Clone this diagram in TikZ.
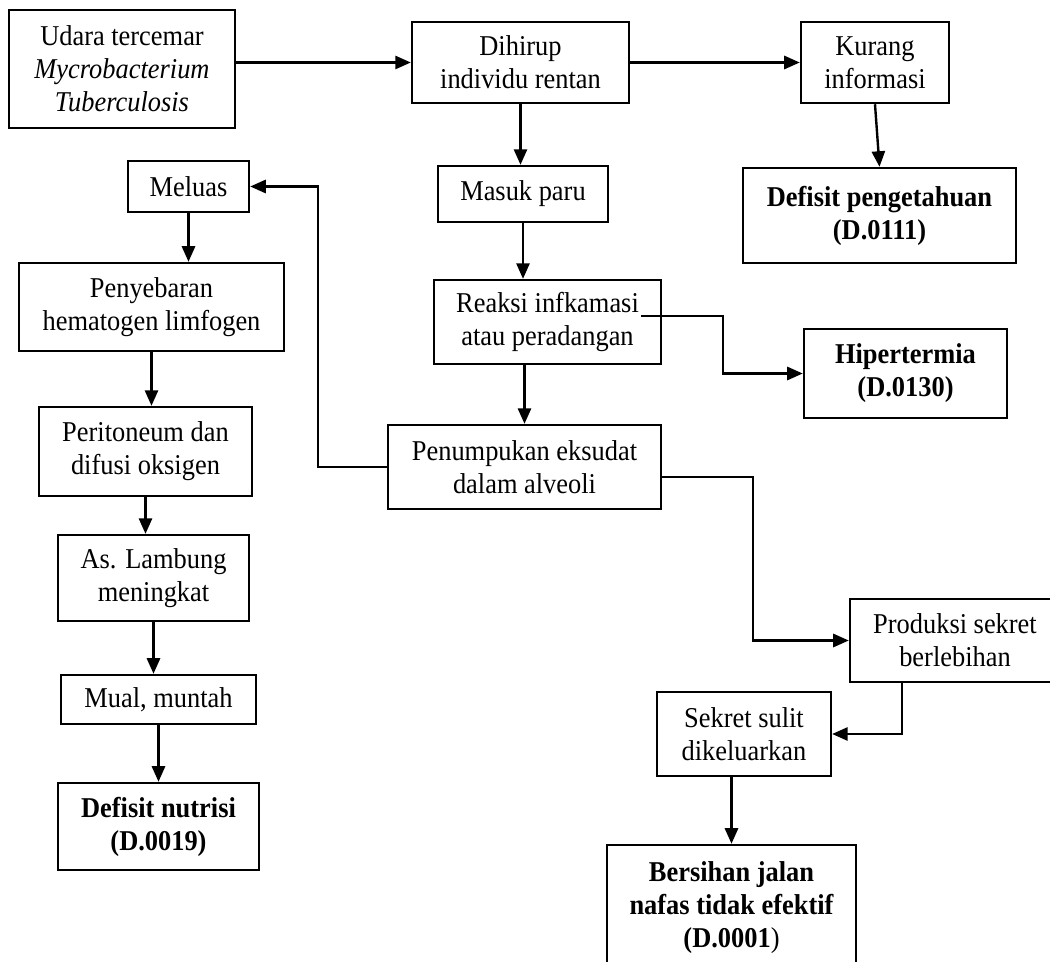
\documentclass[tikz,border=0pt]{standalone}
\usepackage{fontspec}
\setmainfont{Liberation Serif}[FakeStretch=0.92]
\usetikzlibrary{arrows.meta}
\begin{document}
\begin{tikzpicture}[x=0.418pt, y=-0.418pt, line width=1pt, >={Triangle[length=6.5pt,width=5.5pt]},
main node/.style={rectangle,draw,align=center,inner sep=2pt,font=\fontsize{12}{13.8}\selectfont},
diag node/.style={main node,font=\fontsize{12}{13.8}\selectfont\bfseries}]
\useasboundingbox (0,0) rectangle (1050,962);
\clip (0,0) rectangle (1050,962);
\node [main node, minimum width=94.5pt, minimum height=49.3pt](v0) at (122,69) {Udara tercemar\\\textit{Mycrobacterium}\\\textit{Tuberculosis}};
\node [main node, minimum width=90.7pt, minimum height=33.9pt](v1) at (520.5,62.5) {Dihirup\\individu rentan};
\node [main node, minimum width=61.9pt, minimum height=33.9pt](v2) at (875,62.5) {Kurang\\informasi};
\node [diag node, minimum width=114.1pt, minimum height=39.7pt](v3) at (879.5,215.5) {Defisit pengetahuan\\(D.0111)};
\node [main node, minimum width=71.1pt, minimum height=23.4pt](v4) at (523,194) {Masuk paru};
\node [main node, minimum width=50.6pt, minimum height=21.3pt](v5) at (188.5,186.5) {Meluas};
\node [main node, minimum width=110.8pt, minimum height=36.8pt](v6) at (151.5,307) {Penyebaran\\hematogen limfogen};
\node [main node, minimum width=94.9pt, minimum height=35.1pt](v7) at (547.5,322) {Reaksi infkamasi\\atau peradangan};
\node [diag node, minimum width=84.9pt, minimum height=37.2pt](v8) at (905.5,373.5) {Hipertermia\\(D.0130)};
\node [main node, minimum width=89pt, minimum height=37.2pt](v9) at (145.5,451.5) {Peritoneum dan\\difusi oksigen};
\node [main node, minimum width=114.1pt, minimum height=35.1pt](v10) at (524.5,467) {Penumpukan eksudat\\dalam alveoli};
\node [main node, minimum width=79.8pt, minimum height=35.9pt](v11) at (153.5,578) {As. Lambung\\meningkat};
\node [main node, minimum width=87.8pt, minimum height=34.7pt](v12) at (955,640.5) {Produksi sekret\\berlebihan};
\node [main node, minimum width=81.5pt, minimum height=20.5pt](v13) at (158.5,699.5) {Mual, muntah};
\node [main node, minimum width=72.7pt, minimum height=35.1pt](v14) at (744,734) {Sekret sulit\\dikeluarkan};
\node [diag node, minimum width=84pt, minimum height=36.4pt](v15) at (158.5,826.5) {Defisit nutrisi\\(D.0019)};
\node [diag node, minimum width=104.1pt, minimum height=52.7pt](v16) at (731.5,908) {Bersihan jalan\\nafas tidak efektif\\(D.0001\textmd{)}};
\draw [->] (v0.east |- v1.west) -- (v1.west);
\draw [->] (v1.east) -- (v2.west);
\draw [->] (v1.south) -- (v1.south |- v4.north);
\draw [->] (v2.south) -- (v3.north);
\draw [->] (v4.south) -- (v4.south |- v7.north);
\draw [->] ([xshift=-8.8pt,yshift=2.5pt]v7.east) -- ++(82,0) |- (v8.west);
\draw [->] (v10.north |- v7.south) -- (v10.north);
\draw [->] (v10.west) -- ++(-69,0) |- (v5.east);
\draw [->] (v5.south) -- (v5.south |- v6.north);
\draw [->] (v6.south) -- (v6.south |- v9.north);
\draw [->] (v9.south) -- (v9.south |- v11.north);
\draw [->] (v11.south) -- (v11.south |- v13.north);
\draw [->] (v13.south) -- (v15.north);
\draw [->] ([yshift=-4.2pt]v10.east) -- ++(91,0) |- (v12.west);
\draw [->] ([xshift=-22.2pt]v12.south) |- (v14.east);
\draw [->] (v16.north |- v14.south) -- (v16.north);
\end{tikzpicture}
\end{document}
